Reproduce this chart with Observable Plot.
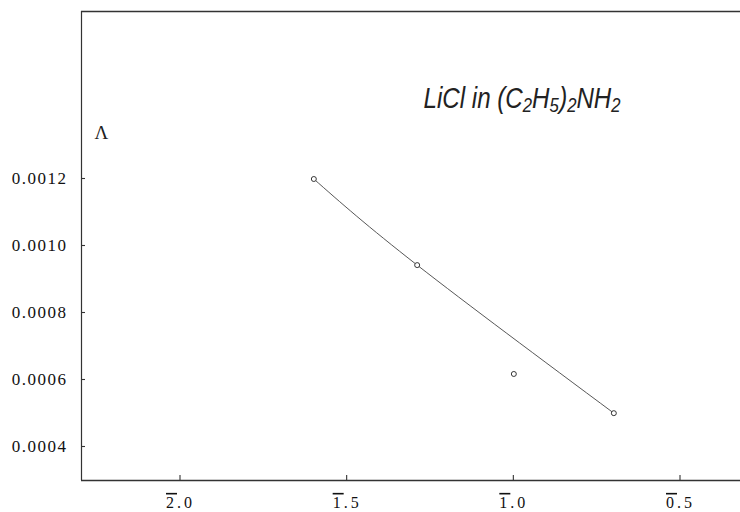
<!DOCTYPE html>
<html>
<head>
<meta charset="utf-8">
<script src="https://cdn.jsdelivr.net/npm/d3@7"></script>
<script src="https://cdn.jsdelivr.net/npm/@observablehq/plot@0.6"></script>
<style>
  html, body { margin: 0; padding: 0; background: #fff; }
  #chart svg { display: block; }
</style>
</head>
<body>
<div id="chart"></div>
<script>
// Data
const logConc = [-1.60, -1.29, -1.00, -0.70];
const conductance = [0.00120, 0.000943, 0.000618, 0.000501];
const onCurve = [true, true, false, true];

const xTicks = [-2.0, -1.5, -1.0, -0.5];
const xTickLabels = ["2\u0305.0", "1\u0305.5", "1\u0305.0", "0\u0305.5"];
const yTicks = [0.0004, 0.0006, 0.0008, 0.0010, 0.0012];
const yTickLabels = ["0.0004", "0.0006", "0.0008", "0.0010", "0.0012"];

const xDomain = [-2.297, -0.32];
const yDomain = [0.0003, 0.0017];

const titleText = "LiCl in (C\u2082H\u2085)\u2082NH\u2082";
const yLabel = "\u039B";

const points = logConc.map((x, i) => ({x, y: conductance[i], fit: onCurve[i]}));
const curvePts = points.filter(d => d.fit);

const serif = "Liberation Serif, DejaVu Serif, serif";

const chart = Plot.plot({
  width: 740,
  height: 512,
  marginLeft: 81,
  marginRight: 0,
  marginTop: 11,
  marginBottom: 32,
  style: {background: "#fff", color: "#111", fontFamily: serif},
  x: {domain: xDomain},
  y: {domain: yDomain},
  marks: [
    Plot.ruleY([yDomain[1]], {stroke: "#333", strokeWidth: 1.3}),
    Plot.ruleY([yDomain[0]], {stroke: "#333", strokeWidth: 1.3}),
    Plot.ruleX([xDomain[0]], {stroke: "#333", strokeWidth: 1.2}),
    // tick labels
    Plot.axisX({
      ticks: xTicks,
      tickFormat: d => xTickLabels[xTicks.indexOf(d)],
      tickSize: 0,
      tickPadding: 16,
      fontSize: 16,
      fontFamily: serif,
      fill: "#111",
      label: null
    }),
    Plot.axisY({
      ticks: yTicks,
      tickFormat: d => yTickLabels[yTicks.findIndex(t => Math.abs(t - d) < 1e-9)],
      tickSize: 0,
      tickPadding: 14,
      fontSize: 17,
      fontFamily: serif,
      fill: "#111",
      label: null
    }),
    Plot.line(curvePts, {x: "x", y: "y", curve: "natural", stroke: "#444", strokeWidth: 0.9}),
    Plot.dot(points, {x: "x", y: "y", r: 2.5, stroke: "#222", strokeWidth: 0.9, fill: "#fff"}),
    Plot.text([yLabel], {frameAnchor: "top-left", dx: 13, dy: 114, fontSize: 19, fontFamily: serif, textAnchor: "start", fill: "#222"}),
    Plot.text([titleText], {frameAnchor: "top-left", dx: 342, dy: 75, fontSize: 30, fontStyle: "italic", fontFamily: "Liberation Sans, sans-serif", textAnchor: "start", fill: "#222"})
  ]
});

document.getElementById("chart").appendChild(chart);

const svg = d3.select(chart);
// inward tick marks, placed with the plot's own scales
const sx = chart.scale("x"), sy = chart.scale("y");
const x0 = sx.apply(xDomain[0]), y0 = sy.apply(yDomain[0]);
const tg = svg.append("g").attr("stroke", "#333").attr("stroke-width", 1.1);
xTicks.forEach(t => {
  const px = sx.apply(t);
  tg.append("line").attr("x1", px).attr("x2", px).attr("y1", y0).attr("y2", y0 - 5);
});
yTicks.forEach(t => {
  const py = sy.apply(t);
  tg.append("line").attr("x1", x0).attr("x2", x0 + 4).attr("y1", py).attr("y2", py);
});

// Fit title width to the hand-lettered span
svg.selectAll("text").filter(function() { return this.textContent === titleText; })
  .attr("textLength", 197).attr("lengthAdjust", "spacingAndGlyphs");
// letter spacing on tick labels
svg.selectAll("text").filter(function() { return yTickLabels.includes(this.textContent); })
  .attr("letter-spacing", "1.5px");
// render the bar (negative characteristic) as an overline on the first digit
svg.selectAll("text").filter(function() { return xTickLabels.includes(this.textContent); })
  .each(function() {
    const label = this.textContent;
    const t = d3.select(this);
    t.text(null).attr("letter-spacing", "3px");
    t.append("tspan").attr("text-decoration", "overline").style("text-decoration", "overline").text(label[0]);
    t.append("tspan").text(label.slice(2));
  });
</script>
</body>
</html>
